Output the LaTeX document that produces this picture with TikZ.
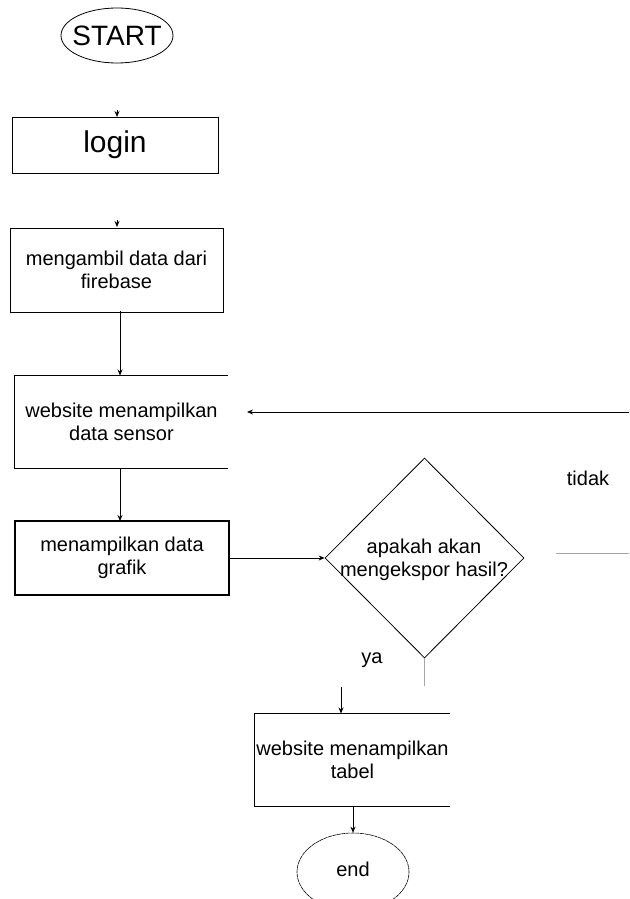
\documentclass[tikz,border=0pt]{standalone}
\usepackage{fontspec}
\setmainfont{Liberation Sans}
\usetikzlibrary{shapes.geometric,arrows.meta}
\begin{document}
\begin{tikzpicture}[x=1pt,y=-1pt,
  txt/.style={inner sep=0pt, align=center, font=\fontsize{20}{23.5}\selectfont},
  box/.style={txt, draw, line width=0.8pt},
  openbox/.style={txt},
  arr/.style={line width=0.8pt, -{Stealth[length=6pt,width=5pt]}},
  grayline/.style={line width=0.8pt, draw=black!35}]
\useasboundingbox (0,0) rectangle (629,899);
\clip (0,0) rectangle (629,899);

% START
\node[draw, line width=0.8pt, ellipse, minimum width=112pt, minimum height=55pt, inner sep=0pt] (start) at (117,35.5) {};
\node[inner sep=0pt, font=\fontsize{28}{30}\selectfont] (starttext) at (117,35.5) {START};

% login
\node[box, minimum width=206pt, minimum height=56pt, font=\fontsize{30}{32}\selectfont] (login) at (115,145) {login};
\coordinate (t1) at (117,110);
\coordinate (t1e) at (117,117);
\draw[arr] (t1) -- (t1e);

% mengambil data
\node[box, minimum width=213pt, minimum height=84pt] (fetch) at (116.5,270) {mengambil data dari\\firebase};
\coordinate (t2) at (117,220);
\coordinate (t2e) at (117,227);
\draw[arr] (t2) -- (t2e);

% website menampilkan data sensor (open right side)
\node[openbox, minimum width=213pt, minimum height=93pt] (sensor) at (121.5,422) {website menampilkan\\data sensor};
\draw[line width=0.8pt] (sensor.north east) -- (sensor.north west) -- (sensor.south west) -- (sensor.south east);
\coordinate (a1s) at (120,311);
\coordinate (a1e) at (120,375.5);
\draw[arr] (a1s) -- (a1e);

% menampilkan data grafik
\node[box, line width=1.6pt, minimum width=214pt, minimum height=74pt] (grafik) at (122,558) {menampilkan data\\grafik};
\coordinate (a2s) at (120,468.5);
\coordinate (a2e) at (120,521);
\draw[arr] (a2s) -- (a2e);

% decision
\node[draw, line width=0.8pt, diamond, minimum width=199pt, minimum height=200pt, inner sep=0pt] (dec) at (424.5,558) {};
\node[txt] (dectext) at (424,560) {apakah akan\\mengekspor hasil?};
\draw[arr] (grafik.east) -- (dec.west);

% feedback arrow (tidak)
\coordinate (fbs) at (629,412);
\coordinate (fbe) at (247,412);
\draw[arr] (fbs) -- (fbe);
\node[txt] (tidak) at (588,478) {tidak};
\coordinate (g1s) at (556,553);
\coordinate (g1e) at (629,553);
\draw[grayline] (g1s) -- (g1e);

% ya
\node[txt] (ya) at (372,660) {ya};
\coordinate (g2e) at (424.5,686);
\draw[grayline] (dec.south) -- (g2e);

% website menampilkan tabel (open right side)
\node[openbox, minimum width=195pt, minimum height=93pt] (tabel) at (352.5,760) {website menampilkan\\tabel};
\draw[line width=0.8pt] (tabel.north east) -- (tabel.north west) -- (tabel.south west) -- (tabel.south east);
\coordinate (a3s) at (341,687);
\coordinate (a3e) at (341,713.5);
\draw[arr] (a3s) -- (a3e);

% end
\node[draw, line width=0.6pt, dash pattern=on 4pt off 0.6pt, ellipse, minimum width=112pt, minimum height=78pt,
      inner sep=0pt, txt] (endnode) at (353,872) {};
\node[txt] (endtext) at (353,869) {end};
\coordinate (a4s) at (353,806.5);
\draw[arr] (a4s) -- (endnode.north);
\end{tikzpicture}
\end{document}
